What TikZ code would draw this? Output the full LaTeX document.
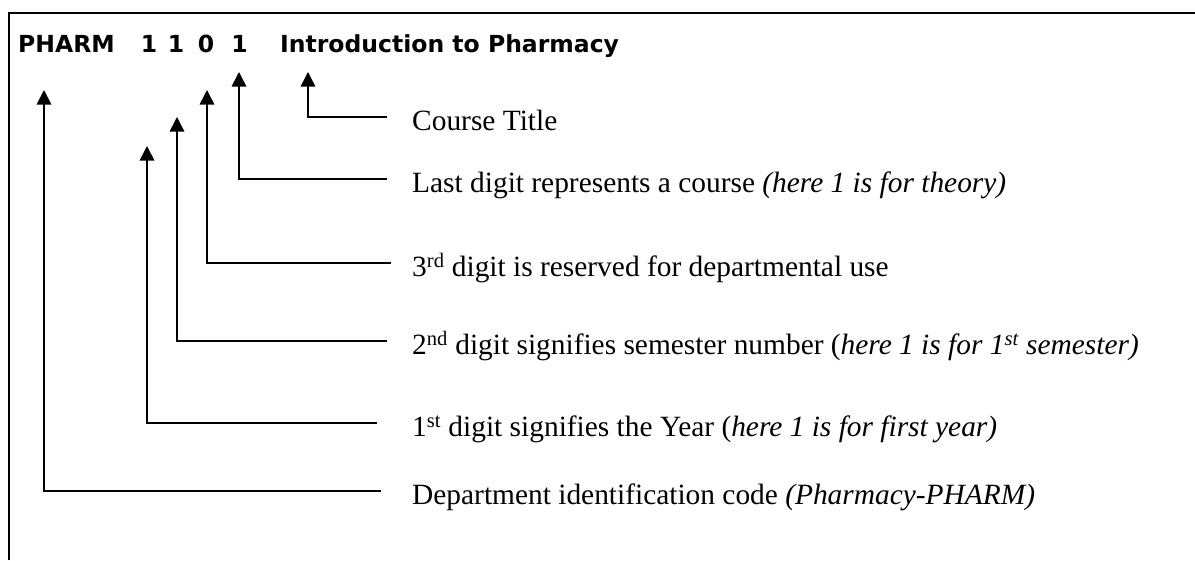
\documentclass[tikz,border=0pt]{standalone}
\usepackage{fontspec}
\setmainfont{Liberation Serif}
\newfontfamily\titlefont{DejaVu Sans}
\usetikzlibrary{arrows.meta}
\begin{document}
\begin{tikzpicture}[x=1pt,y=-1pt,
  conn/.style={line width=1.6pt,-{Triangle[width=14.5pt,length=14.5pt]}},
  frameline/.style={line width=2pt},
  ttl/.style={inner sep=0pt,anchor=base west,font=\titlefont\bfseries\fontsize{23.5}{24}\selectfont},
  dig/.style={inner sep=0pt,anchor=base,font=\titlefont\bfseries\fontsize{23.5}{24}\selectfont},
  lab/.style={inner sep=0pt,anchor=base west,font=\fontsize{29.4}{30}\selectfont}]
\useasboundingbox (0,0) rectangle (1195,560);
% frame
\draw[frameline] (9,560) -- (9,13) -- (1195,13);
% title
\node[ttl] (pharm) at (18,52) {PHARM};
\node[dig] (d1) at (149,52) {1};
\node[dig] (d2) at (176,52) {1};
\node[dig] (d3) at (206,52) {0};
\node[dig] (d4) at (239.5,52) {1};
\node[ttl] (title) at (280,52) {Introduction to Pharmacy};
% labels
\node[lab] (lcourse) at (412,130.5) {Course Title};
\node[lab] (llast) at (412,192.5) {Last digit represents a course \textit{(here 1 is for theory)}};
\node[lab] (lthird) at (412,276.5) {3\textsuperscript{rd} digit is reserved for departmental use};
\node[lab] (lsecond) at (412,354.5) {2\textsuperscript{nd} digit signifies semester number (\textit{here 1 is for 1\textsuperscript{st} semester)}};
\node[lab] (lfirst) at (412,436.5) {1\textsuperscript{st} digit signifies the Year (\textit{here 1 is for first year)}};
\node[lab] (ldept) at (412,504.5) {Department identification code \textit{(Pharmacy-PHARM)}};
% connector ends
\coordinate (ecourse) at (387,117);
\coordinate (elast) at (387,179);
\coordinate (ethird) at (391,263);
\coordinate (esecond) at (387,341);
\coordinate (efirst) at (377,423);
\coordinate (edept) at (381,491);
% arrow tips
\coordinate (tcourse) at (308,72);
\coordinate (tlast) at (239,72);
\coordinate (tthird) at (207,90);
\coordinate (tsecond) at (177,117);
\coordinate (tfirst) at (147,146);
\coordinate (tdept) at (44,90);
% connectors
\draw[conn] (ecourse) -| (tcourse);
\draw[conn] (elast) -| (tlast);
\draw[conn] (ethird) -| (tthird);
\draw[conn] (esecond) -| (tsecond);
\draw[conn] (efirst) -| (tfirst);
\draw[conn] (edept) -| (tdept);
\end{tikzpicture}
\end{document}
